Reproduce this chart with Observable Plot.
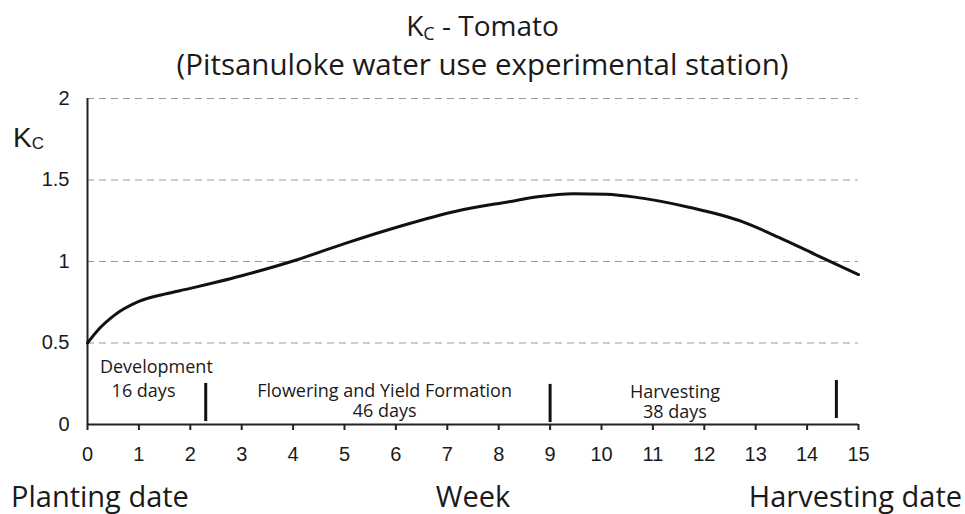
<!DOCTYPE html>
<html>
<head>
<meta charset="utf-8">
<script src="https://cdn.jsdelivr.net/npm/d3@7"></script>
<script src="https://cdn.jsdelivr.net/npm/@observablehq/plot@0.6"></script>
<style>
  html, body { margin: 0; padding: 0; background: #fff; }
  #wrap { position: relative; width: 965px; height: 514px; overflow: hidden; background: #fff; }
  #wrap svg { position: absolute; left: 0; top: 0; }
  .lbl { position: absolute; white-space: nowrap; color: #1a1a1a; line-height: 1; }
  .os { font-family: "Open Sans", sans-serif; }
  .ls { font-family: "Liberation Sans", Arial, sans-serif; }
</style>
</head>
<body>
<div id="wrap">
  <div class="lbl os" id="title" style="left:0;width:965px;text-align:center;top:11px;font-size:28px;">K<span style="font-size:18px;position:relative;top:4px;">C</span> - Tomato</div>
  <div class="lbl os" id="subtitle" style="left:0;width:965px;text-align:center;top:49px;font-size:29.5px;">(Pitsanuloke water use experimental station)</div>
  <div class="lbl ls" id="ylab" style="left:13px;top:124px;font-size:28px;">K<span style="font-size:17px;position:relative;top:2px;">C</span></div>
  <div class="lbl os" style="left:11px;top:481px;font-size:29px;">Planting date</div>
  <div class="lbl os" style="left:373px;width:200px;text-align:center;top:481px;font-size:29px;">Week</div>
  <div class="lbl os" style="right:3px;top:481px;font-size:29px;">Harvesting date</div>
</div>
<script>
// ---- data ----
const weeks = [0, 0.25, 0.5, 1, 1.5, 2, 2.5, 3, 4, 5, 6.1, 7.15, 8.2, 8.76, 9.45, 10.1, 10.65, 11.7, 12.75, 13.45, 14.15, 15];
const kc    = [0.5, 0.595, 0.665, 0.755, 0.80, 0.835, 0.873, 0.913, 1.003, 1.11, 1.218, 1.307, 1.367, 1.397, 1.416, 1.412, 1.395, 1.333, 1.243, 1.148, 1.044, 0.92];
const gridValues = [0.5, 1, 1.5, 2];
const xTicks = [0, 1, 2, 3, 4, 5, 6, 7, 8, 9, 10, 11, 12, 13, 14, 15];
const yTicks = [0, 0.5, 1, 1.5, 2];
const dividerWeeks = [2.3, 9, 14.57];
const dividerTop = [0.252, 0.246, 0.27];
const dividerBottom = [0.018, 0.012, 0.037];
const stageTexts = ["Development", "16 days", "Flowering and Yield Formation\n46 days", "Harvesting\n38 days"];
const stageWeeks = [1.34, 1.09, 5.78, 11.43];
const stageKc = [0.357, 0.206, 0.146, 0.139];

const curve = weeks.map((w, i) => ({week: w, kc: kc[i]}));
const dividers = dividerWeeks.map((w, i) => ({week: w, top: dividerTop[i], bottom: dividerBottom[i]}));
const stages = stageTexts.map((t, i) => ({text: t, week: stageWeeks[i], kc: stageKc[i]}));

const chart = Plot.plot({
  width: 965,
  height: 514,
  marginLeft: 87,
  marginRight: 107,
  marginTop: 98,
  marginBottom: 90,
  x: {domain: [0, 15]},
  y: {domain: [0, 2]},
  style: {fontFamily: "Liberation Sans, Arial, sans-serif", fontSize: "20px", color: "#1a1a1a", background: "transparent"},
  marks: [
    Plot.ruleY(gridValues, {stroke: "#9a9a9a", strokeWidth: 1.2, strokeDasharray: "7,5"}),
    Plot.ruleX([0], {y1: 0, y2: 2, stroke: "#222", strokeWidth: 2}),
    Plot.ruleY([0], {stroke: "#222", strokeWidth: 2}),
    Plot.axisX({ticks: xTicks, tickSize: 6, tickPadding: 16, strokeWidth: 2, stroke: "#222", label: null, tickFormat: d => String(d), fontSize: 20}),
    Plot.axisY({ticks: yTicks, tickSize: 0, tickPadding: 18, label: null, tickFormat: d => String(d), fontSize: 20}),
    Plot.line(curve, {x: "week", y: "kc", curve: "monotone-x", stroke: "#111", strokeWidth: 3}),
    Plot.ruleX(dividers, {x: "week", y1: "bottom", y2: "top", stroke: "#111", strokeWidth: 3}),
    Plot.text(stages, {x: "week", y: "kc", text: "text", fontFamily: "Open Sans, sans-serif", fontSize: 18, lineHeight: 1.12, fill: "#1a1a1a", textAnchor: "middle"})
  ]
});
document.getElementById("wrap").prepend(chart);
</script>
</body>
</html>
